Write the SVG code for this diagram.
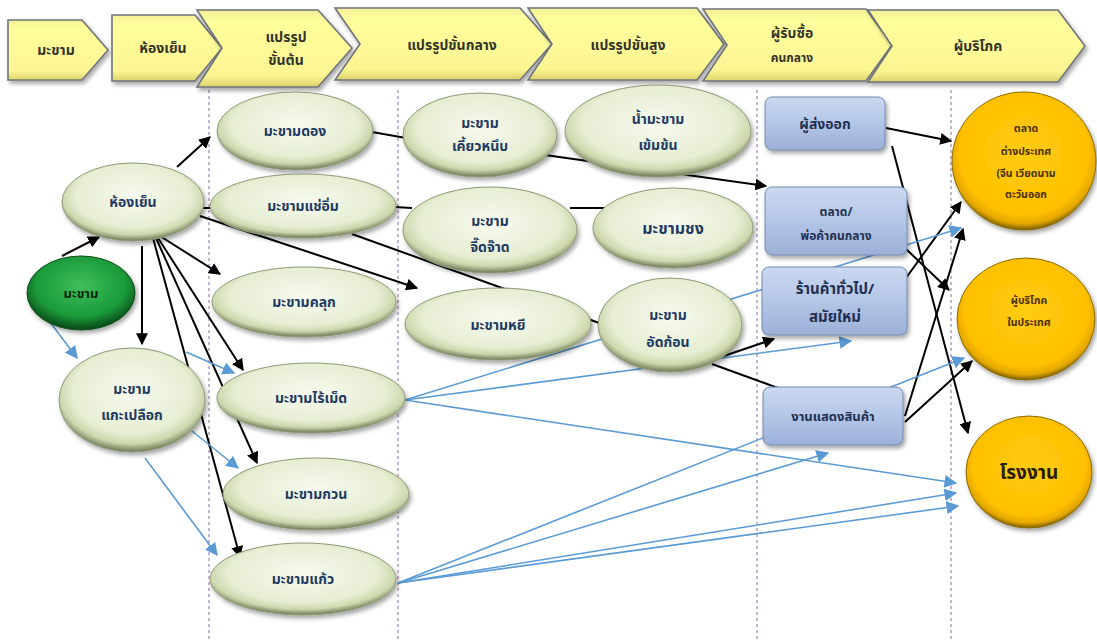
<svg xmlns="http://www.w3.org/2000/svg" width="1097" height="640" viewBox="0 0 1097 640">
  <defs>
    <radialGradient id="gLeaf" cx="50%" cy="42%" r="58%">
      <stop offset="0" stop-color="#f7faee"/>
      <stop offset="0.7" stop-color="#e6eed3"/>
      <stop offset="0.86" stop-color="#cdd8ae"/>
      <stop offset="1" stop-color="#6c7856"/>
    </radialGradient>
    <radialGradient id="gGreen" cx="50%" cy="40%" r="58%">
      <stop offset="0" stop-color="#3fbf5a"/>
      <stop offset="0.72" stop-color="#1a9a3a"/>
      <stop offset="1" stop-color="#0a4f1a"/>
    </radialGradient>
    <radialGradient id="gGold" cx="50%" cy="44%" r="56%">
      <stop offset="0" stop-color="#ffcc10"/>
      <stop offset="0.8" stop-color="#ffc000"/>
      <stop offset="0.92" stop-color="#e4a800"/>
      <stop offset="1" stop-color="#7a5e00"/>
    </radialGradient>
    <linearGradient id="gBox" x1="0" y1="0" x2="0" y2="1">
      <stop offset="0" stop-color="#cbd8f0"/>
      <stop offset="0.5" stop-color="#b4c6e7"/>
      <stop offset="1" stop-color="#9cb0d8"/>
    </linearGradient>
    <linearGradient id="gHead" x1="0" y1="0" x2="0" y2="1">
      <stop offset="0" stop-color="#f4ef98"/>
      <stop offset="0.15" stop-color="#ffff9c"/>
      <stop offset="0.85" stop-color="#fbf592"/>
      <stop offset="1" stop-color="#dcd26a"/>
    </linearGradient>
    <filter id="shadow" x="-20%" y="-20%" width="140%" height="150%">
      <feDropShadow dx="2" dy="3" stdDeviation="2" flood-color="#000" flood-opacity="0.35"/>
    </filter>
    <marker id="ahBlack" viewBox="0 0 10 10" refX="9" refY="5" markerWidth="6" markerHeight="6" orient="auto" markerUnits="strokeWidth">
      <path d="M0,0 L10,5 L0,10 z" fill="#000"/>
    </marker>
    <marker id="ahBlue" viewBox="0 0 10 10" refX="9" refY="5" markerWidth="8" markerHeight="8" orient="auto" markerUnits="strokeWidth">
      <path d="M0,0 L10,5 L0,10 z" fill="#5b9bd5"/>
    </marker>
    <style>
      text { font-family: "Noto Sans Thai", "Leelawadee UI", "Tahoma", "DejaVu Sans", "Noto Sans", sans-serif; font-weight: bold; text-anchor: middle; }
      .head { fill: url(#gHead); stroke: #6f747a; stroke-width: 1.6; filter: url(#shadow); }
      .headTxt { font-size: 14px; fill: #33332a; }
      .leaf { fill: url(#gLeaf); stroke: #8f9a78; stroke-width: 1; filter: url(#shadow); }
      .leafTxt { font-size: 14px; fill: #1f3a63; }
      .box { fill: url(#gBox); stroke: #7488b0; stroke-width: 1; filter: url(#shadow); }
      .boxTxt { font-size: 14px; fill: #1f3050; }
      .gold { fill: url(#gGold); stroke: #8a6c00; stroke-width: 1; filter: url(#shadow); }
      .goldTxt { font-size: 10.5px; fill: #4a3200; }
      .lane { stroke: #a084b4; stroke-width: 1.2; stroke-dasharray: 3 3; fill: none; }
      .blk { stroke: #000; stroke-width: 2; fill: none; }
      .blkA { stroke: #000; stroke-width: 2; fill: none; marker-end: url(#ahBlack); }
      .blu { stroke: #5b9bd5; stroke-width: 1.6; fill: none; marker-end: url(#ahBlue); }
    </style>
  </defs>

  <rect width="1097" height="640" fill="#ffffff"/>

  <!-- stage separators -->
  <g id="lanes">
    <line class="lane" x1="209" y1="90" x2="209" y2="640"/>
    <line class="lane" x1="398" y1="90" x2="398" y2="640"/>
    <line class="lane" x1="757" y1="90" x2="757" y2="640"/>
    <line class="lane" x1="951" y1="90" x2="951" y2="640"/>
  </g>

  <!-- stage header chevrons -->
  <g id="header">
    <g id="h-makham"><polygon class="head" points="8,20 82,20 108,50 82,80 8,80"/><text class="headTxt" x="56" y="55">มะขาม</text></g>
    <g id="h-coldroom"><polygon class="head" points="112,15 195,15 222,48 195,81 112,81"/><text class="headTxt" x="163" y="53">ห้องเย็น</text></g>
    <g id="h-primary"><polygon class="head" points="197,10 318,10 352,48 318,87 197,87 222,48"/><text class="headTxt" x="286" y="42">แปรรูป</text><text class="headTxt" x="286" y="65">ขั้นต้น</text></g>
    <g id="h-middle"><polygon class="head" points="335,8 520,8 552,44 520,80 335,80 360,44"/><text class="headTxt" x="452" y="50">แปรรูปขั้นกลาง</text></g>
    <g id="h-advanced"><polygon class="head" points="528,8 697,8 724,44 697,80 528,80 552,44"/><text class="headTxt" x="628" y="50">แปรรูปขั้นสูง</text></g>
    <g id="h-buyer"><polygon class="head" points="703,9 866,9 892,45 866,81 703,81 727,45"/><text class="headTxt" x="792" y="38">ผู้รับซื้อ</text><text class="headTxt" x="792" y="62" style="font-size:12px">คนกลาง</text></g>
    <g id="h-consumer"><polygon class="head" points="868,10 1058,10 1085,46 1058,82 868,82 892,46"/><text class="headTxt" x="978" y="51">ผู้บริโภค</text></g>
  </g>

  <!-- connectors -->
  <g id="connectors">
    <!-- black flows -->
    <line class="blkA" x1="62" y1="256" x2="99" y2="237"/>
    <line class="blkA" x1="177" y1="167" x2="210" y2="137"/>
    <line class="blk" x1="200" y1="208" x2="214" y2="208"/>
    <line class="blkA" x1="142" y1="246" x2="142" y2="344"/>
    <line class="blkA" x1="160" y1="236" x2="220" y2="274"/>
    <line class="blkA" x1="200" y1="216" x2="417" y2="288"/>
    <line class="blkA" x1="158" y1="238" x2="243" y2="370"/>
    <line class="blkA" x1="156" y1="238" x2="257" y2="463"/>
    <line class="blkA" x1="153" y1="238" x2="240" y2="557"/>
    <line class="blk" x1="372" y1="132" x2="406" y2="138"/>
    <line class="blk" x1="394" y1="207" x2="412" y2="208"/>
    <line class="blk" x1="570" y1="208" x2="606" y2="208"/>
    <line class="blk" x1="352" y1="234" x2="602" y2="324"/>
    <line class="blkA" x1="545" y1="155" x2="766" y2="186"/>
    <line class="blkA" x1="718" y1="358" x2="774" y2="339"/>
    <line class="blk" x1="712" y1="364" x2="778" y2="388"/>
    <line class="blkA" x1="886" y1="128" x2="951" y2="141"/>
    <line class="blkA" x1="892" y1="146" x2="968" y2="433"/>
    <line class="blkA" x1="905" y1="248" x2="949" y2="290"/>
    <line class="blkA" x1="906" y1="278" x2="961" y2="202"/>
    <line class="blkA" x1="905" y1="416" x2="963" y2="229"/>
    <line class="blkA" x1="905" y1="422" x2="972" y2="361"/>

    <!-- blue flows -->
    <line class="blu" x1="47" y1="318" x2="77" y2="358"/>
    <line class="blu" x1="186" y1="352" x2="234" y2="373"/>
    <line class="blu" x1="192" y1="431" x2="238" y2="468"/>
    <line class="blu" x1="145" y1="458" x2="217" y2="555"/>
    <line class="blu" x1="405" y1="400" x2="961" y2="228"/>
    <line class="blu" x1="405" y1="400" x2="851" y2="341"/>
    <line class="blu" x1="405" y1="400" x2="956" y2="483"/>
    <line class="blu" x1="398" y1="583" x2="964" y2="358"/>
    <line class="blu" x1="398" y1="583" x2="828" y2="453"/>
    <line class="blu" x1="398" y1="583" x2="956" y2="493"/>
    <line class="blu" x1="398" y1="583" x2="958" y2="506"/>
  </g>

  <!-- source and cold storage -->
  <g id="n-makham"><ellipse cx="81" cy="293" rx="54" ry="37" fill="url(#gGreen)" stroke="#0b4d18" stroke-width="1" filter="url(#shadow)"/><text x="81" y="298" style="font-size:13px;fill:#12260f">มะขาม</text></g>
  <g id="n-coldroom"><ellipse class="leaf" cx="133" cy="202" rx="71" ry="39"/><text class="leafTxt" x="133" y="207">ห้องเย็น</text></g>
  <g id="n-peeled"><ellipse class="leaf" cx="132" cy="400" rx="73" ry="52"/><text class="leafTxt" x="132" y="394">มะขาม</text><text class="leafTxt" x="132" y="420">แกะเปลือก</text></g>

  <!-- primary processing -->
  <g id="n-pickled"><ellipse class="leaf" cx="295" cy="131" rx="78" ry="39"/><text class="leafTxt" x="295" y="136">มะขามดอง</text></g>
  <g id="n-candied"><ellipse class="leaf" cx="303" cy="206" rx="93" ry="32"/><text class="leafTxt" x="303" y="211">มะขามแช่อิ่ม</text></g>
  <g id="n-coated"><ellipse class="leaf" cx="304" cy="302" rx="92" ry="35"/><text class="leafTxt" x="304" y="307">มะขามคลุก</text></g>
  <g id="n-seedless"><ellipse class="leaf" cx="311" cy="398" rx="94" ry="35"/><text class="leafTxt" x="311" y="403">มะขามไร้เม็ด</text></g>
  <g id="n-paste"><ellipse class="leaf" cx="316" cy="494" rx="93" ry="36"/><text class="leafTxt" x="316" y="499">มะขามกวน</text></g>
  <g id="n-glazed"><ellipse class="leaf" cx="303" cy="579" rx="93" ry="36"/><text class="leafTxt" x="303" y="584">มะขามแก้ว</text></g>

  <!-- intermediate processing -->
  <g id="n-chewy"><ellipse class="leaf" cx="480" cy="135" rx="77" ry="42"/><text class="leafTxt" x="480" y="128">มะขาม</text><text class="leafTxt" x="480" y="151">เคี้ยวหนึบ</text></g>
  <g id="n-spicy"><ellipse class="leaf" cx="490" cy="230" rx="87" ry="43"/><text class="leafTxt" x="490" y="226">มะขาม</text><text class="leafTxt" x="490" y="252">จี๊ดจ๊าด</text></g>
  <g id="n-sheet"><ellipse class="leaf" cx="498" cy="324" rx="93" ry="36"/><text class="leafTxt" x="498" y="330">มะขามหยี</text></g>

  <!-- advanced processing -->
  <g id="n-concentrate"><ellipse class="leaf" cx="658" cy="131" rx="93" ry="46"/><text class="leafTxt" x="658" y="124">น้ำมะขาม</text><text class="leafTxt" x="658" y="150">เข้มข้น</text></g>
  <g id="n-drink"><ellipse class="leaf" cx="673" cy="228" rx="80" ry="40"/><text class="leafTxt" x="673" y="234" style="font-size:16px">มะขามชง</text></g>
  <g id="n-block"><ellipse class="leaf" cx="670" cy="325" rx="72" ry="47"/><text class="leafTxt" x="668" y="320">มะขาม</text><text class="leafTxt" x="668" y="347">อัดก้อน</text></g>

  <!-- buyers and middlemen -->
  <g id="n-exporter"><rect class="box" x="765" y="97" width="120" height="53" rx="7"/><text class="boxTxt" x="825" y="129">ผู้ส่งออก</text></g>
  <g id="n-market"><rect class="box" x="765" y="187" width="142" height="68" rx="7"/><text class="boxTxt" x="836" y="216" style="font-size:12px">ตลาด/</text><text class="boxTxt" x="836" y="240" style="font-size:12px">พ่อค้าคนกลาง</text></g>
  <g id="n-store"><rect class="box" x="762" y="267" width="145" height="68" rx="7"/><text class="boxTxt" x="835" y="294" style="font-size:15px">ร้านค้าทั่วไป/</text><text class="boxTxt" x="835" y="322" style="font-size:15px">สมัยใหม่</text></g>
  <g id="n-fair"><rect class="box" x="763" y="387" width="140" height="58" rx="7"/><text class="boxTxt" x="833" y="421" style="font-size:13px">งานแสดงสินค้า</text></g>

  <!-- consumers -->
  <g id="n-abroad"><ellipse class="gold" cx="1024" cy="161" rx="72" ry="69"/><text class="goldTxt" x="1026" y="132">ตลาด</text><text class="goldTxt" x="1026" y="155">ต่างประเทศ</text><text class="goldTxt" x="1026" y="177">(จีน เวียดนาม</text><text class="goldTxt" x="1026" y="198">ตะวันออก</text></g>
  <g id="n-domestic"><ellipse class="gold" cx="1026" cy="319" rx="69" ry="61"/><text class="goldTxt" x="1029" y="304">ผู้บริโภค</text><text class="goldTxt" x="1029" y="326">ในประเทศ</text></g>
  <g id="n-factory"><ellipse class="gold" cx="1029" cy="472" rx="63" ry="56"/><text x="1029" y="479" style="font-size:19px;fill:#2a2000">โรงงาน</text></g>
</svg>
